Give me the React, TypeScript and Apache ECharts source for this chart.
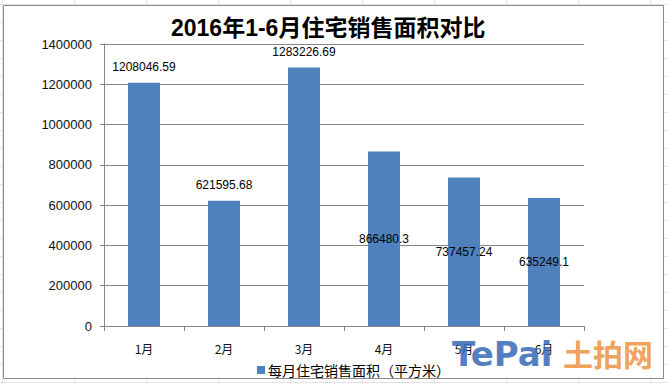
import React, { useEffect, useRef } from "react";
import * as echarts from "echarts";

const categories = ["1月", "2月", "3月", "4月", "5月", "6月"];
const areaValues = [1208046.59, 621595.68, 1283226.69, 866480.3, 737457.24, 635249.1];
const seriesName = "每月住宅销售面积（平方米）";
const titleText = "2016年1-6月住宅销售面积对比";
const insideLabelCount = 3; // last three bars carry labels inside

export default function App() {
  const ref = useRef<HTMLDivElement>(null);
  useEffect(() => {
    document.body.style.margin = "0";
    const chart = echarts.init(ref.current!, null, { renderer: "svg" });
    const latin = "'Liberation Sans', 'Noto Sans CJK SC', sans-serif";
    const n = areaValues.length;
    chart.setOption({
      animation: false,
      backgroundColor: "transparent",
      title: {
        text: titleText,
        left: 166,
        top: 11,
        textStyle: {
          fontSize: 23,
          fontWeight: "bold",
          color: "#000",
          fontFamily: "'Liberation Sans', 'Noto Sans CJK SC', sans-serif",
        },
      },
      graphic: [
        {
          type: "rect",
          z: -10,
          shape: { x: 3.5, y: 5.5, width: 660, height: 373 },
          style: { fill: "#fff", stroke: "#8a8a8a", lineWidth: 1 },
        },
        {
          type: "text",
          x: 452,
          y: 337,
          z: 10,
          style: {
            text: "TePai",
            fontSize: 34,
            fontWeight: "bold",
            fontFamily: "'DejaVu Sans', sans-serif",
            fill: "rgba(60,110,185,0.9)",
          },
        },
        {
          type: "text",
          x: 563,
          y: 338,
          z: 10,
          style: {
            text: "土拍网",
            fontSize: 30,
            fontWeight: "bold",
            fontFamily: "'Noto Sans CJK SC', sans-serif",
            fill: "rgba(240,150,70,0.9)",
          },
        },
      ],
      legend: {
        left: 252,
        top: 358,
        icon: "rect",
        itemWidth: 8,
        itemHeight: 8,
        itemGap: 4,
        textStyle: { fontSize: 14, color: "#000", fontFamily: "'Noto Sans CJK SC', sans-serif", padding: [0, 0, 0, -2] },
        data: [seriesName],
      },
      grid: { left: 104, right: 84, top: 44, bottom: 58, containLabel: false },
      xAxis: {
        type: "category",
        data: categories,
        axisLine: { lineStyle: { color: "#868686", width: 1 } },
        axisTick: { show: true, alignWithLabel: false, length: 5, lineStyle: { color: "#868686" } },
        axisLabel: { margin: 16, fontSize: 12, color: "#111", fontFamily: "'Noto Sans CJK SC', sans-serif" },
      },
      yAxis: {
        type: "value",
        min: 0,
        max: 1400000,
        interval: 200000,
        axisLine: { show: true, lineStyle: { color: "#868686", width: 1 } },
        axisTick: { show: true, length: 4, lineStyle: { color: "#868686" } },
        axisLabel: {
          margin: 12,
          fontSize: 13,
          color: "#111",
          fontFamily: latin,
          formatter: (v: number) => String(v),
        },
        splitLine: { lineStyle: { color: "#868686", width: 1 } },
      },
      series: [
        {
          name: seriesName,
          type: "bar",
          barWidth: "40%",
          itemStyle: { color: "#4f81bd" },
          data: areaValues.map((v, i) => ({
            value: v,
            label: {
              show: true,
              position: i >= n - insideLabelCount ? "inside" : "top",
              distance: 10,
              formatter: String(v),
              fontSize: 12,
              color: "#000",
              fontFamily: latin,
            },
          })),
        },
      ],
    });
    return () => chart.dispose();
  }, []);

  return (
    <div
      style={{
        position: "relative",
        width: 668,
        height: 384,
        backgroundColor: "#fff",
        backgroundImage:
          "repeating-linear-gradient(to bottom, transparent 0px, transparent 4px, #e2e2e2 4px, #e2e2e2 5px, transparent 5px, transparent 18px), repeating-linear-gradient(to right, transparent 0px, transparent 2px, #e2e2e2 2px, #e2e2e2 3px, transparent 3px, transparent 72px)",
      }}
    >
      <div ref={ref} style={{ position: "absolute", left: 0, top: 0, width: 668, height: 384 }} />
    </div>
  );
}
